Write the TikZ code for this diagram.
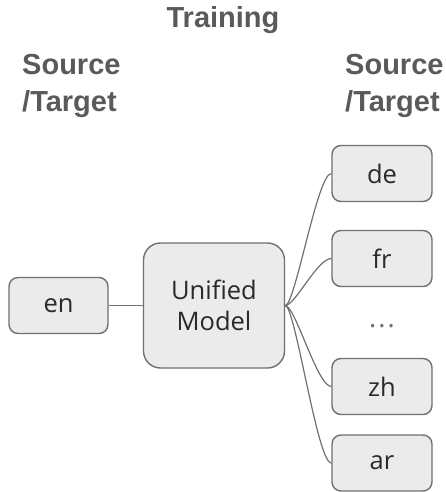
\documentclass[tikz,border=0pt]{standalone}
\usepackage{fontspec}
\setmainfont{Open Sans}
\newfontfamily\headfont{Liberation Sans}
\definecolor{boxfill}{HTML}{EBEBEB}
\definecolor{boxline}{HTML}{707070}
\definecolor{headcol}{HTML}{5A5A5A}
\definecolor{txtcol}{HTML}{2A2A2A}
\begin{document}
\begin{tikzpicture}[x=1pt,y=-1pt,
  lang/.style={draw=boxline, line width=1.4pt, fill=boxfill, rounded corners=9pt,
    minimum width=99pt, minimum height=56pt, inner sep=0pt, text=txtcol,
    font=\fontsize{25.5}{31}\selectfont},
  head/.style={text=headcol, font=\headfont\bfseries\fontsize{29}{34}\selectfont, inner sep=0pt},
  link/.style={draw=boxline, line width=1.2pt}]
\path[use as bounding box] (0,0) rectangle (446,492);
% headers
\node[head, anchor=base] (train) at (223,28) {Training};
\node[head, anchor=base west] (ls) at (22,75) {Source};
\node[head, anchor=base west] (lt) at (22,111) {/Target};
\node[head, anchor=base west] (rs) at (345,75) {Source};
\node[head, anchor=base west] (rt) at (345,111) {/Target};
% boxes
\node[lang] (en) at (58.5,305.5) {en};
\node[lang, minimum width=141pt, minimum height=125pt, rounded corners=17pt, align=center] (model) at (214,305.5) {Unified\\Model};
\node[lang, minimum width=100pt] (de) at (382,173.5) {de};
\node[lang, minimum width=100pt] (fr) at (382,258.5) {fr};
\node[text=boxline, font=\fontsize{27}{30}\selectfont, inner sep=0pt] (dots) at (382,326) {.\kern2pt.\kern2pt.};
\node[lang, minimum width=100pt] (zh) at (382,386.5) {zh};
\node[lang, minimum width=100pt] (ar) at (382,463) {ar};
% connectors
\draw[link] (en.east) -- (model.west);
\foreach \t in {de,fr,zh,ar}{
  \draw[link] (model.east) .. controls ([xshift=10pt]model.east) and ([xshift=-14pt]\t.west) .. (\t.west);
}
\end{tikzpicture}
\end{document}
